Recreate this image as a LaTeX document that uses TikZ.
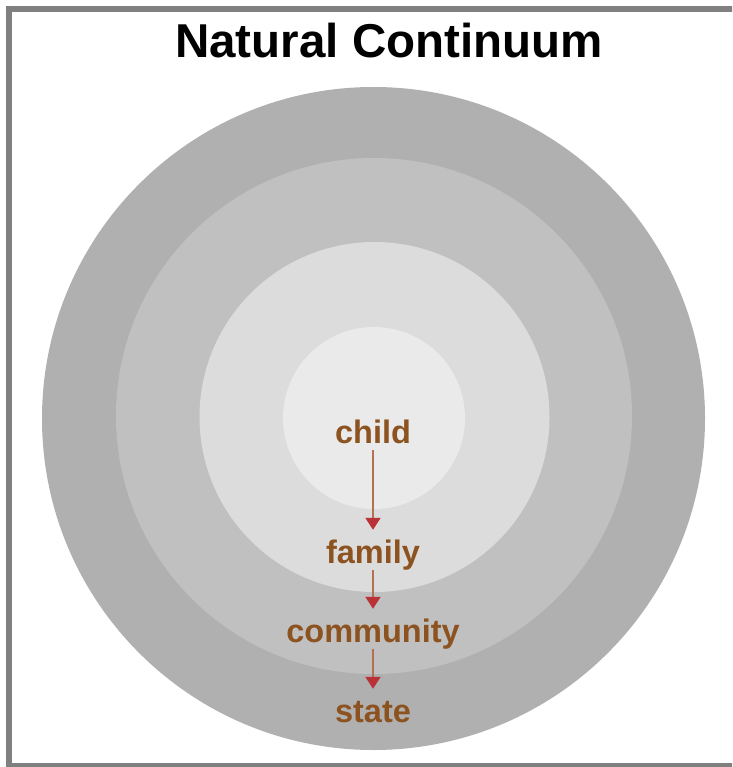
\documentclass[tikz,border=0pt]{standalone}
\usepackage{fontspec}
\setmainfont{Liberation Sans}
\usepackage{tikz}
\usetikzlibrary{arrows,arrows.meta,positioning}

\definecolor{ringA}{RGB}{176,176,176}
\definecolor{ringB}{RGB}{192,192,192}
\definecolor{ringC}{RGB}{220,220,220}
\definecolor{ringD}{RGB}{234,234,234}
\definecolor{wordbrown}{RGB}{140,82,32}
\definecolor{shaftbrown}{RGB}{180,112,80}
\definecolor{tipred}{RGB}{185,50,55}
\definecolor{framegray}{RGB}{128,128,128}

\tikzset{
	level/.style={font=\fontsize{32.5}{32.5}\selectfont\bfseries, text=wordbrown, inner sep=0pt, text height=23pt, text depth=7pt, anchor=base},
	flow/.style={draw=shaftbrown, line width=2pt, -{Triangle[length=12pt,width=15pt,color=tipred]}, shorten >=10pt}
}

\begin{document}
\begin{tikzpicture}[x=1pt, y=-1pt]
	\useasboundingbox (0,0) rectangle (732,767);
	\clip (0,0) rectangle (732,767); % Rahmen rechts offen
	
	\fill[white] (0,0) rectangle (732,767);
	\draw[framegray, line width=6pt] (760,9) -- (9,9) -- (9,766) -- (760,766);
	
	\node[font=\fontsize{47.5}{47.5}\selectfont\bfseries, inner sep=0pt, anchor=base] (title) at (389,58) {Natural Continuum};
	
	% Kreise von aussen nach innen
	\fill[ringA] (373.5,418.5) circle[radius=331.5];
	\fill[ringB] (374,416) circle[radius=258];
	\fill[ringC] (374.5,417) circle[radius=175];
	\fill[ringD] (374,418) circle[radius=91];
	
	\node[level] (child) at (373,443) {child};
	\node[level] (family) at (373,563) {family};
	\node[level] (community) at (373,642) {community};
	\node[level] (state) at (373,722) {state};
	
	\draw[flow] (child) -- (family);
	\draw[flow] (family) -- (community);
	\draw[flow] (community) -- (state);
\end{tikzpicture}
\end{document}
